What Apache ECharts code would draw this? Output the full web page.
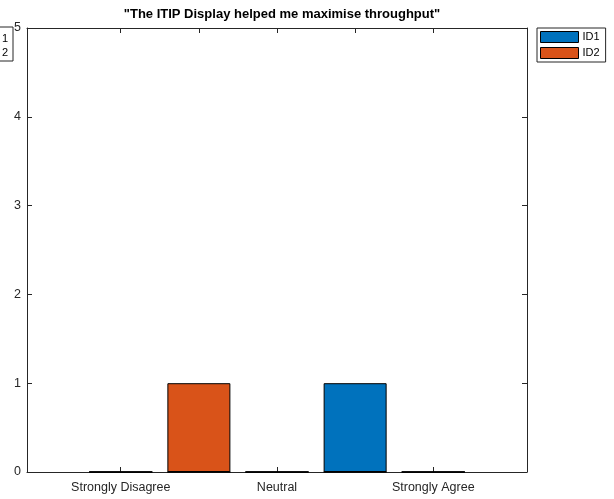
<!DOCTYPE html>
<html><head><meta charset="utf-8">
<script src="https://cdn.jsdelivr.net/npm/echarts@6/dist/echarts.min.js"></script>
<style>html,body{margin:0;padding:0;background:#fff}#c{width:614px;height:499px}</style>
</head><body><div id="c"></div>
<script>
const title = '"The ITIP Display helped me maximise throughput"';
const positions = [1, 2, 3, 4, 5];
const categories = ['Strongly Disagree', 'Disagree', 'Neutral', 'Agree', 'Strongly Agree'];
const labelPositions = [1, 3, 5];
const id1Values = [0, 0, 0, 1, 0];
const id2Values = [0, 1, 0, 0, 0];
const yTicks = [0, 1, 2, 3, 4, 5];
const seriesNames = ['ID1', 'ID2'];
const colors = ['#0072BD', '#D95319'];

const font = 'Liberation Sans, Arial, Helvetica, sans-serif';
const axisCol = '#262626';
const chart = echarts.init(document.getElementById('c'));
const mk = (vals) => positions.map((p, i) => [p, vals[i]]);

const xBase = {
  type: 'value', min: -0.2, max: 6.2,
  axisLine: { show: true, onZero: false, lineStyle: { color: axisCol, width: 1 } },
  splitLine: { show: false }
};
const yBase = {
  type: 'value', min: 0, max: 5, interval: 1,
  axisLine: { show: true, onZero: false, lineStyle: { color: axisCol, width: 1 } },
  splitLine: { show: false }
};

chart.setOption({
  animation: false,
  title: {
    text: title, left: 277, top: 3, textAlign: 'center',
    textStyle: { fontFamily: font, fontSize: 13, fontWeight: 'bold', color: '#000' }
  },
  legend: {
    data: seriesNames, orient: 'vertical', left: 537, top: 28,
    icon: 'rect',
    itemWidth: 38, itemHeight: 11, itemGap: 4,
    padding: [3, 6, 3, 3],
    borderColor: '#262626', borderWidth: 1, backgroundColor: '#fff',
    textStyle: { fontFamily: font, fontSize: 11, color: '#000', padding: [0, 0, 0, -1] },
    itemStyle: { borderColor: '#000', borderWidth: 1 }
  },
  graphic: [
    { type: 'rect', shape: { x: -1, y: 27, width: 14, height: 34 }, style: { fill: '#fff', stroke: '#262626', lineWidth: 1 } },
    { type: 'text', x: 2, y: 32, style: { text: '1\n2', fontFamily: font, fontSize: 11, lineHeight: 14, fill: '#000' } }
  ],
  grid: { left: 27, right: 87, top: 28, bottom: 27, containLabel: false },
  xAxis: [
    Object.assign({}, xBase, {
      position: 'bottom',
      axisTick: { show: true, inside: true, length: 5, customValues: positions, lineStyle: { color: axisCol } },
      axisLabel: {
        show: true, customValues: labelPositions, margin: 9,
        fontFamily: font, fontSize: 12.5, color: '#262626',
        formatter: (v) => categories[positions.indexOf(Math.round(v))] || ''
      }
    }),
    Object.assign({}, xBase, {
      position: 'top',
      axisTick: { show: true, inside: true, length: 5, customValues: positions, lineStyle: { color: axisCol } },
      axisLabel: { show: false }
    })
  ],
  yAxis: [
    Object.assign({}, yBase, {
      position: 'left',
      axisTick: { show: true, inside: true, length: 5, lineStyle: { color: axisCol } },
      axisLabel: { show: true, margin: 6, fontFamily: font, fontSize: 12.5, color: '#262626',
        formatter: (v) => yTicks.includes(v) ? String(v) : '' }
    }),
    Object.assign({}, yBase, {
      position: 'right',
      axisTick: { show: true, inside: true, length: 5, lineStyle: { color: axisCol } },
      axisLabel: { show: false }
    })
  ],
  series: [
    { name: seriesNames[0], type: 'bar', stack: 's', data: mk(id1Values), barWidth: 63,
      itemStyle: { color: colors[0], borderColor: '#000', borderWidth: 1 } },
    { name: seriesNames[1], type: 'bar', stack: 's', data: mk(id2Values), barWidth: 63,
      itemStyle: { color: colors[1], borderColor: '#000', borderWidth: 1 } }
  ]
});
</script></body></html>
